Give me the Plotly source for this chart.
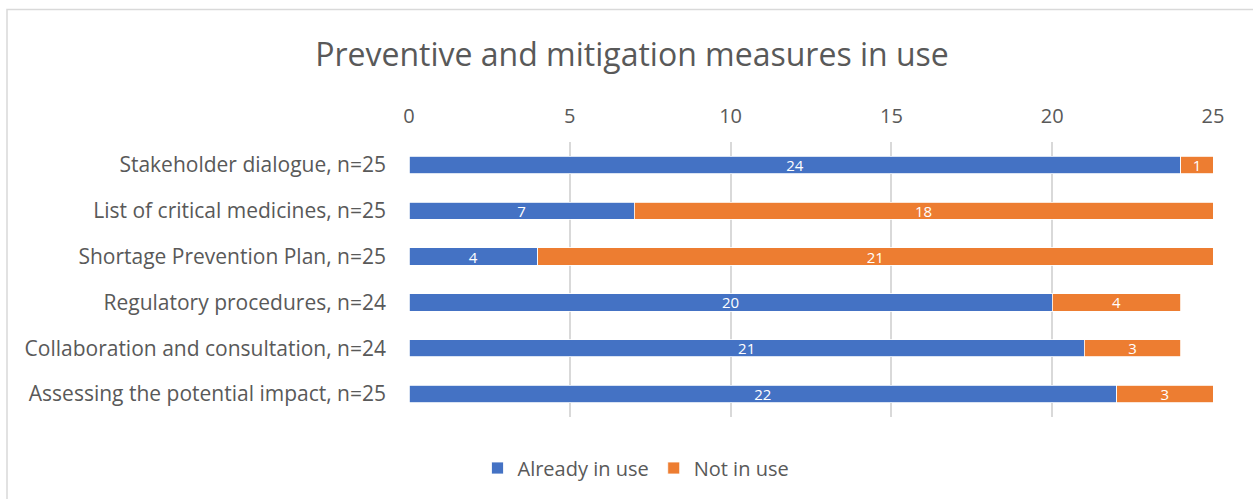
import plotly.graph_objects as go

categories = [
    "Stakeholder dialogue, n=25",
    "List of critical medicines, n=25",
    "Shortage Prevention Plan, n=25",
    "Regulatory procedures, n=24",
    "Collaboration and consultation, n=24",
    "Assessing the potential impact, n=25",
]
already_in_use = [24, 7, 4, 20, 21, 22]
not_in_use = [1, 18, 21, 4, 3, 3]
tick_values = [0, 5, 10, 15, 20, 25]

FONT = "'Open Sans', Lato, sans-serif"
GREY = "#595959"

fig = go.Figure()
fig.add_trace(go.Bar(
    y=categories, x=already_in_use, orientation="h", name="Already in use",
    marker=dict(color="#4472C4", line=dict(color="white", width=0.8)),
    text=already_in_use, textposition="inside", insidetextanchor="middle",
    textfont=dict(color="white", size=15, family=FONT), textangle=0,
))
fig.add_trace(go.Bar(
    y=categories, x=not_in_use, orientation="h", name="Not in use",
    marker=dict(color="#ED7D31", line=dict(color="white", width=0.8)),
    text=not_in_use, textposition="inside", insidetextanchor="middle",
    textfont=dict(color="white", size=15, family=FONT), textangle=0,
))

W, H = 1253, 499
L, R, T, B = 409, 40, 142, 82
pw, ph = W - L - R, H - T - B

def px_x(p):
    return (p - L) / pw

def px_y(p):
    return (H - B - p) / ph

fig.update_layout(
    width=W, height=H,
    barmode="stack", bargap=0.62,
    margin=dict(l=L, r=R, t=T, b=B),
    paper_bgcolor="white", plot_bgcolor="white",
    font=dict(family=FONT, color=GREY, size=20),
    title=dict(text="Preventive and mitigation measures in use",
               x=px_x(632), xref="paper", xanchor="center",
               y=1 - 55 / H, yanchor="middle",
               font=dict(size=32, color=GREY, family=FONT)),
    xaxis=dict(side="top", range=[0, 25], tickvals=tick_values,
               showgrid=True, gridcolor="#D9D9D9", gridwidth=1.5,
               zeroline=False, showline=False, ticks="",
               tickfont=dict(size=20, color=GREY), ticklabelstandoff=14),
    yaxis=dict(autorange="reversed", showgrid=False, ticks="",
               showline=False, tickfont=dict(size=21, color=GREY),
               ticklabelstandoff=22),
    legend=dict(orientation="h", x=px_x(636), xanchor="center",
                y=px_y(468), yanchor="middle",
                font=dict(size=20, color=GREY), traceorder="normal",
                itemwidth=30),
    uniformtext=dict(minsize=15, mode="show"),
    shapes=[dict(type="rect", xref="paper", yref="paper",
                 x0=px_x(7), x1=px_x(1270), y0=px_y(520), y1=px_y(9.5),
                 line=dict(color="#D9D9D9", width=1.5), fillcolor="rgba(0,0,0,0)",
                 layer="below")],
)

fig.write_html("out.html")
